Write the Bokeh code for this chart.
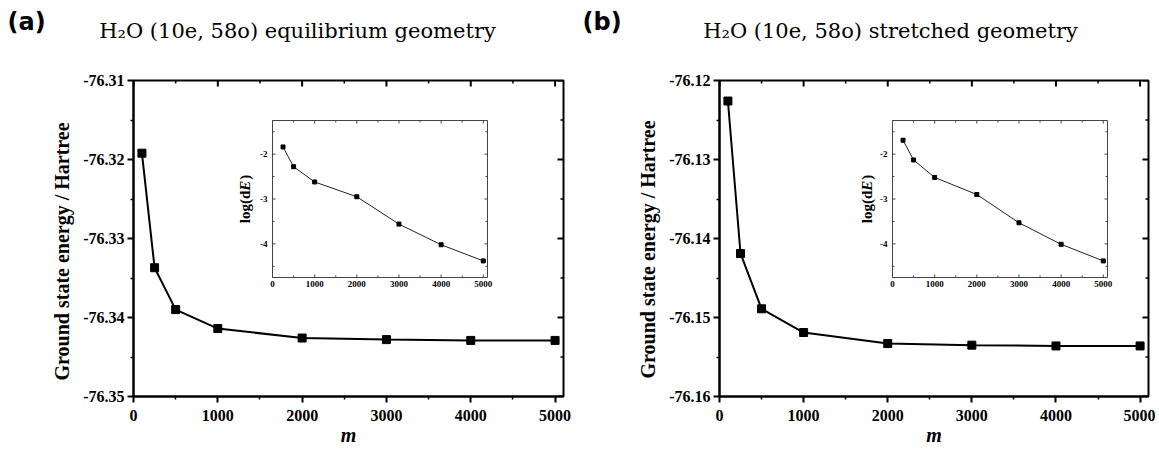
import math
from bokeh.plotting import figure
from bokeh.models import Range1d, LinearAxis, FixedTicker, Title
from bokeh.layouts import row, column
from bokeh.embed import file_html
from bokeh.resources import INLINE
from bokeh.core.properties import value

# ---------------- data ----------------
m_main = [100, 250, 500, 1000, 2000, 3000, 4000, 5000]
energy_eq = [-76.3192, -76.3337, -76.3390, -76.3414, -76.3426, -76.3428, -76.3429, -76.3429]
energy_st = [-76.1226, -76.1419, -76.1489, -76.1519, -76.1533, -76.1535, -76.1536, -76.1536]

m_inset = [250, 500, 1000, 2000, 3000, 4000, 5000]
logdE_eq = [-1.84, -2.28, -2.62, -2.95, -3.56, -4.02, -4.38]
logdE_st = [-1.69, -2.13, -2.52, -2.90, -3.53, -4.01, -4.38]

x_ticks = [0, 1000, 2000, 3000, 4000, 5000]
x_tick_labels = ["0", "1000", "2000", "3000", "4000", "5000"]
x_minor = [500, 1500, 2500, 3500, 4500]

y_ticks_eq = [-76.35, -76.34, -76.33, -76.32, -76.31]
y_labels_eq = ["-76.35", "-76.34", "-76.33", "-76.32", "-76.31"]
y_minor_eq = [-76.345, -76.335, -76.325, -76.315]

y_ticks_st = [-76.16, -76.15, -76.14, -76.13, -76.12]
y_labels_st = ["-76.16", "-76.15", "-76.14", "-76.13", "-76.12"]
y_minor_st = [-76.155, -76.145, -76.135, -76.125]

inset_y_ticks = [-4, -3, -2]
inset_y_labels = ["-4", "-3", "-2"]
inset_y_minor = [-4.5, -3.5, -2.5, -1.5]

panel_labels = ["(a)", "(b)"]
titles = ["H\u2082O (10e, 58o) equilibrium geometry", "H\u2082O (10e, 58o) stretched geometry"]
y_title = "Ground state energy / Hartree"
x_title = "m"

X_RANGE = (0, 5100)
INSET_X = (0, 5100)
INSET_Y = (-4.75, -1.25)

SERIF = "Liberation Serif"
HEADER_H = 45
TOTAL_W = 1155
MAIN_H = 407


def make_panel(page_left, fig_w, frame, inset, y_range, y_ticks, y_labels, y_minor,
               energy, logdE, ytitle_bottom, ilab_dx):
    FL, FR, FT, FB = frame
    IL, IR, IT, IB = inset
    top_b = FT - HEADER_H
    p = figure(width=fig_w, height=MAIN_H, x_range=Range1d(*X_RANGE), y_range=Range1d(*y_range),
               output_backend="svg", toolbar_location=None, title_location=None,
               x_axis_location=None, y_axis_location=None,
               min_border_left=FL - page_left, min_border_right=fig_w - (FL - page_left) - (FR - FL),
               min_border_top=top_b, min_border_bottom=MAIN_H - top_b - (FB - FT))
    p.grid.visible = False
    p.outline_line_color = "black"
    p.outline_line_width = 2
    p.background_fill_color = "white"
    p.border_fill_color = "white"

    X0, X1 = X_RANGE
    Y0, Y1 = y_range
    xpx = (X1 - X0) / (FR - FL)
    ypx = (Y1 - Y0) / (FB - FT)

    def style_axis(ax, standoff):
        ax.axis_line_width = 2
        ax.axis_line_color = "black"
        ax.major_tick_line_width = 2
        ax.minor_tick_line_width = 1.5
        ax.major_tick_out, ax.major_tick_in = 6, 0
        ax.minor_tick_out, ax.minor_tick_in = 3, 0
        ax.major_label_text_font = SERIF
        ax.major_label_text_font_style = "bold"
        ax.major_label_text_font_size = "16px"
        ax.major_label_text_color = "black"
        ax.major_label_standoff = standoff

    left = LinearAxis(ticker=FixedTicker(ticks=y_ticks, minor_ticks=y_minor),
                      major_label_overrides=dict(zip(y_ticks, y_labels)))
    style_axis(left, 3)
    below = LinearAxis(ticker=FixedTicker(ticks=x_ticks, minor_ticks=x_minor),
                       major_label_overrides=dict(zip(x_ticks, x_tick_labels)),
                       axis_label=x_title)
    style_axis(below, 7)
    below.axis_label_text_font = SERIF
    below.axis_label_text_font_style = "bold italic"
    below.axis_label_text_font_size = "20px"
    below.axis_label_text_color = "black"
    below.axis_label_standoff = 0
    p.add_layout(left, "left")
    p.add_layout(below, "below")
    p.add_layout(Title(text=y_title, align="left", offset=FB - ytitle_bottom, standoff=16,
                       text_font=SERIF, text_font_style="bold", text_font_size="20px",
                       text_color="black"), "left")

    # mirrored inward ticks on top and right
    tk = dict(line_color="black")
    p.segment(x0=x_ticks, x1=x_ticks, y0=[Y1] * len(x_ticks), y1=[Y1 - 6 * ypx] * len(x_ticks),
              line_width=2, **tk)
    p.segment(x0=x_minor, x1=x_minor, y0=[Y1] * len(x_minor), y1=[Y1 - 3 * ypx] * len(x_minor),
              line_width=1.5, **tk)
    p.segment(x0=[X1] * len(y_ticks), x1=[X1 - 6 * xpx] * len(y_ticks), y0=y_ticks, y1=y_ticks,
              line_width=2, **tk)
    p.segment(x0=[X1] * len(y_minor), x1=[X1 - 3 * xpx] * len(y_minor), y0=y_minor, y1=y_minor,
              line_width=1.5, **tk)

    # main series
    p.line(m_main, energy, line_color="black", line_width=2)
    p.scatter(m_main, energy, marker="square", size=8, fill_color="black", line_color="black")

    # inset coordinate system
    ix0, ix1 = INSET_X
    iy0, iy1 = INSET_Y
    sx = (ix1 - ix0) / (IR - IL)
    sy = (iy1 - iy0) / (IB - IT)
    p.extra_x_ranges = {"ix": Range1d(ix0 - (IL - FL) * sx, ix1 + (FR - IR) * sx)}
    p.extra_y_ranges = {"iy": Range1d(iy0 - (FB - IB) * sy, iy1 + (IT - FT) * sy)}
    kw = dict(x_range_name="ix", y_range_name="iy")

    p.quad(left=[ix0], right=[ix1], bottom=[iy0], top=[iy1], fill_color="white",
           line_color="#444444", line_width=1, **kw)
    tcol = "#444444"
    for ticks, ln in ((x_ticks, 3), (x_minor, 2)):
        n = len(ticks)
        p.segment(x0=ticks, x1=ticks, y0=[iy0] * n, y1=[iy0 + ln * sy] * n,
                  line_color=tcol, line_width=1, **kw)
        p.segment(x0=ticks, x1=ticks, y0=[iy1] * n, y1=[iy1 - ln * sy] * n,
                  line_color=tcol, line_width=1, **kw)
    for ticks, ln in ((inset_y_ticks, 3), (inset_y_minor, 2)):
        n = len(ticks)
        p.segment(x0=[ix0] * n, x1=[ix0 + ln * sx] * n, y0=ticks, y1=ticks,
                  line_color=tcol, line_width=1, **kw)
        p.segment(x0=[ix1] * n, x1=[ix1 - ln * sx] * n, y0=ticks, y1=ticks,
                  line_color=tcol, line_width=1, **kw)
    p.text(x=x_ticks, y=[iy0 - 3 * sy] * len(x_ticks), text=x_tick_labels,
           text_font=value(SERIF), text_font_style="bold", text_font_size="9px",
           text_align="center", text_baseline="top", text_color="black", **kw)
    p.text(x=[ix0 - 5 * sx] * len(inset_y_ticks), y=inset_y_ticks, text=inset_y_labels,
           text_font=value(SERIF), text_font_style="bold", text_font_size="9px",
           text_align="right", text_baseline="middle", text_color="black", **kw)
    # inset y title log(dE) with italic E
    fs = 15
    w1, w2, w3 = 2.167 * fs, 0.667 * fs + 1, 0.333 * fs
    L = w1 + w2 + w3
    lx = ix0 - ilab_dx * sx
    cy = (iy0 + iy1) / 2
    ystart = cy - (L / 2) * sy
    parts = [("log(d", "bold", ystart), ("E", "bold italic", ystart + w1 * sy),
             (")", "bold", ystart + (w1 + w2) * sy)]
    for txt, style, yy in parts:
        p.text(x=[lx], y=[yy], text=[txt], angle=math.pi / 2, text_font=value(SERIF),
               text_font_style=style, text_font_size=f"{fs}px", text_align="left",
               text_baseline="middle", text_color="black", **kw)

    p.line(m_inset, logdE, line_color="#222222", line_width=1, **kw)
    p.scatter(m_inset, logdE, marker="square", size=4, fill_color="black", line_color="black", **kw)
    return p


# header strip with panel letters and titles (pixel coordinates)
header = figure(width=TOTAL_W, height=HEADER_H, x_range=Range1d(0, TOTAL_W),
                y_range=Range1d(HEADER_H, 0), output_backend="svg", toolbar_location=None,
                title_location=None, x_axis_location=None, y_axis_location=None, min_border=0)
header.grid.visible = False
header.outline_line_color = None
header.background_fill_color = "white"
header.border_fill_color = "white"
label_x = [7, 582]
title_cx = [297, 890]
header.text(x=label_x, y=[21, 21], text=panel_labels, text_font=value("DejaVu Sans"),
            text_font_style="bold", text_font_size="24px", text_align="left",
            text_baseline="alphabetic", text_color="black")
header.text(x=title_cx, y=[30, 30], text=titles, text_font=value("DejaVu Serif"),
            text_font_size="21px", text_align="center", text_baseline="alphabetic",
            text_color="black")

pa = make_panel(0, 575, (133, 563, 80, 396), (272, 487, 120, 277), (-76.35, -76.31),
                y_ticks_eq, y_labels_eq, y_minor_eq, energy_eq, logdE_eq, 380, 28)
pb = make_panel(575, TOTAL_W - 575, (719, 1148, 80, 396), (892, 1107, 120, 277), (-76.16, -76.12),
                y_ticks_st, y_labels_st, y_minor_st, energy_st, logdE_st, 378, 26)

layout = column(header, row(pa, pb))
open("out.html", "w").write(file_html(layout, INLINE))
